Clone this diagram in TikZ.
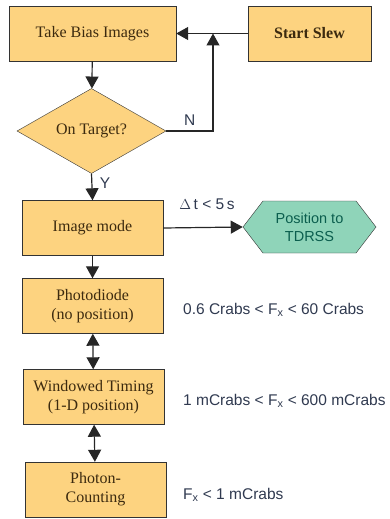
\documentclass[tikz,border=0pt]{standalone}
\usepackage{fontspec}
\setmainfont{Liberation Serif}
\setsansfont{Liberation Sans}
\usetikzlibrary{arrows.meta,shapes.geometric,shapes.symbols}
\definecolor{boxfill}{RGB}{253,211,128}
\definecolor{boxtext}{RGB}{60,42,15}
\definecolor{hexfill}{RGB}{143,212,185}
\definecolor{hextext}{RGB}{11,94,78}
\definecolor{labeltext}{RGB}{48,58,80}
\begin{document}
\begin{tikzpicture}[x=1pt,y=-1pt,
    modebox/.style={draw=black!80,fill=boxfill,text=boxtext,minimum width=141pt,minimum height=55pt,
        inner sep=0pt,align=center,font=\fontsize{16}{19}\selectfont},
    decide/.style={diamond,draw=black!80,fill=boxfill,text=boxtext,minimum width=149pt,minimum height=84pt,
        inner sep=0pt,font=\fontsize{16}{19}\selectfont},
    outhex/.style={signal,signal to=east and west,signal pointer angle=105,draw=black!80,fill=hexfill,
        text=hextext,minimum width=133pt,minimum height=52pt,inner sep=0pt,align=center,
        font=\sffamily\fontsize{14.5}{18}\selectfont},
    rate/.style={anchor=west,text=labeltext,inner sep=0pt,font=\sffamily\fontsize{15.5}{18}\selectfont},
    flow/.style={draw=black!85,line width=1.2pt,-{Triangle[length=12pt,width=13pt]}},
    both/.style={draw=black!85,line width=1.2pt,{Triangle[length=12pt,width=13pt]}-{Triangle[length=12pt,width=13pt]}}]
  \useasboundingbox (0,0) rectangle (390,519);
  % top row
  \node[modebox,minimum width=167pt] (bias) at (92.5,33.5) {Take Bias Images};
  \node[modebox,minimum width=123pt,font=\bfseries\fontsize{16}{19}\selectfont] (slew) at (309.5,33.5) {Start Slew};
  \node[decide] (target) at (91.5,131) {On Target?};
  \coordinate (join) at (213,33.5);
  % modes
  \node[modebox] (image) at (92.5,228) {Image mode};
  \node[outhex] (tdrss) at (309.5,227) {Position to\\TDRSS};
  \node[modebox] (photo) at (92.5,306) {Photodiode\\(no position)};
  \node[modebox] (window) at (93.5,397) {Windowed Timing\\(1-D position)};
  \node[modebox] (count) at (95.5,489.5) {Photon-\\Counting};
  % flux ranges
  \node[rate] (r1) at (183,310) {0.6 Crabs < F\textsubscript{x} < 60 Crabs};
  \node[rate] (r2) at (183,401) {1 mCrabs < F\textsubscript{x} < 600 mCrabs};
  \node[rate] (r3) at (183,495) {F\textsubscript{x} < 1 mCrabs};
  % connectors
  \draw[flow] (slew.west) -- (bias.east);
  \draw[flow] (bias) -- (target);
  \draw[flow] (target.east) -| node[pos=0.25,above=2pt,text=labeltext,font=\sffamily\fontsize{15.5}{18}\selectfont] {N} (join);
  \draw[flow] (target.south) -- node[right=4pt,pos=0.35,text=labeltext,font=\sffamily\fontsize{15.5}{18}\selectfont] {Y} (image.north);
  \draw[flow] (image.east) -- node[above=14pt,pos=0.55,text=labeltext,font=\sffamily\fontsize{15.5}{18}\selectfont] {$\Delta$\,t < 5\,s} (tdrss.west);
  \draw[flow] (image) -- (photo);
  \draw[both] (photo) -- (window);
  \draw[both] (window) -- (count);
\end{tikzpicture}
\end{document}
